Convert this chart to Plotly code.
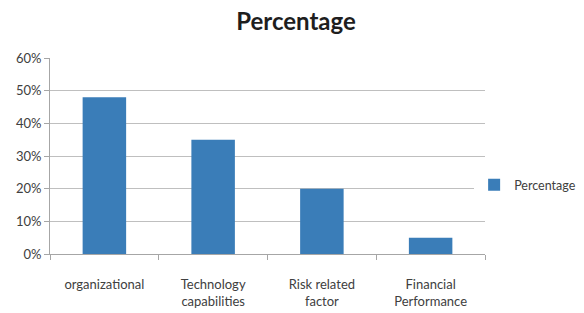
import plotly.graph_objects as go

categories = ["organizational", "Technology<br>capabilities", "Risk related<br>factor", "Financial<br>Performance"]
values = [0.48, 0.35, 0.20, 0.05]
series_name = "Percentage"
y_ticks = [0, 0.1, 0.2, 0.3, 0.4, 0.5, 0.6]

fig = go.Figure()
fig.add_trace(go.Bar(x=categories, y=values, name=series_name,
                     marker=dict(color="#3A7DB8", line=dict(width=0)),
                     width=0.4, showlegend=True))

fig.update_layout(
    width=576, height=305,
    margin=dict(l=42, r=99, t=50, b=59, autoexpand=False),
    paper_bgcolor="white", plot_bgcolor="white",
    font=dict(family="Lato, Open Sans, sans-serif", size=13, color="#404040"),
    title=dict(text="<b>Percentage</b>", x=0.5, xanchor="center",
               y=0.955, yanchor="middle",
               font=dict(size=24, color="#1e1e1e", family="Lato, Open Sans, sans-serif")),
    showlegend=True,
    legend=dict(x=0.975, y=0.352, xanchor="left", yanchor="middle",
                font=dict(size=12.5, color="#404040"), itemwidth=30),
    bargap=0.6,
)
fig.update_xaxes(showline=True, linecolor="#A6A6A6", linewidth=1,
                 ticks="outside", tickson="boundaries", ticklen=5, tickcolor="#A6A6A6",
                 ticklabelstandoff=18,
                 showgrid=False, tickfont=dict(size=13, color="#404040"))
fig.update_yaxes(range=[0, 0.6], tickvals=y_ticks, tickformat=".0%",
                 showline=True, linecolor="#A6A6A6", linewidth=1,
                 ticks="outside", ticklen=5, tickcolor="#A6A6A6",
                 showgrid=True, gridcolor="#BFBFBF", gridwidth=1, zeroline=False,
                 tickfont=dict(size=13, color="#404040"))

fig.write_html("out.html")
